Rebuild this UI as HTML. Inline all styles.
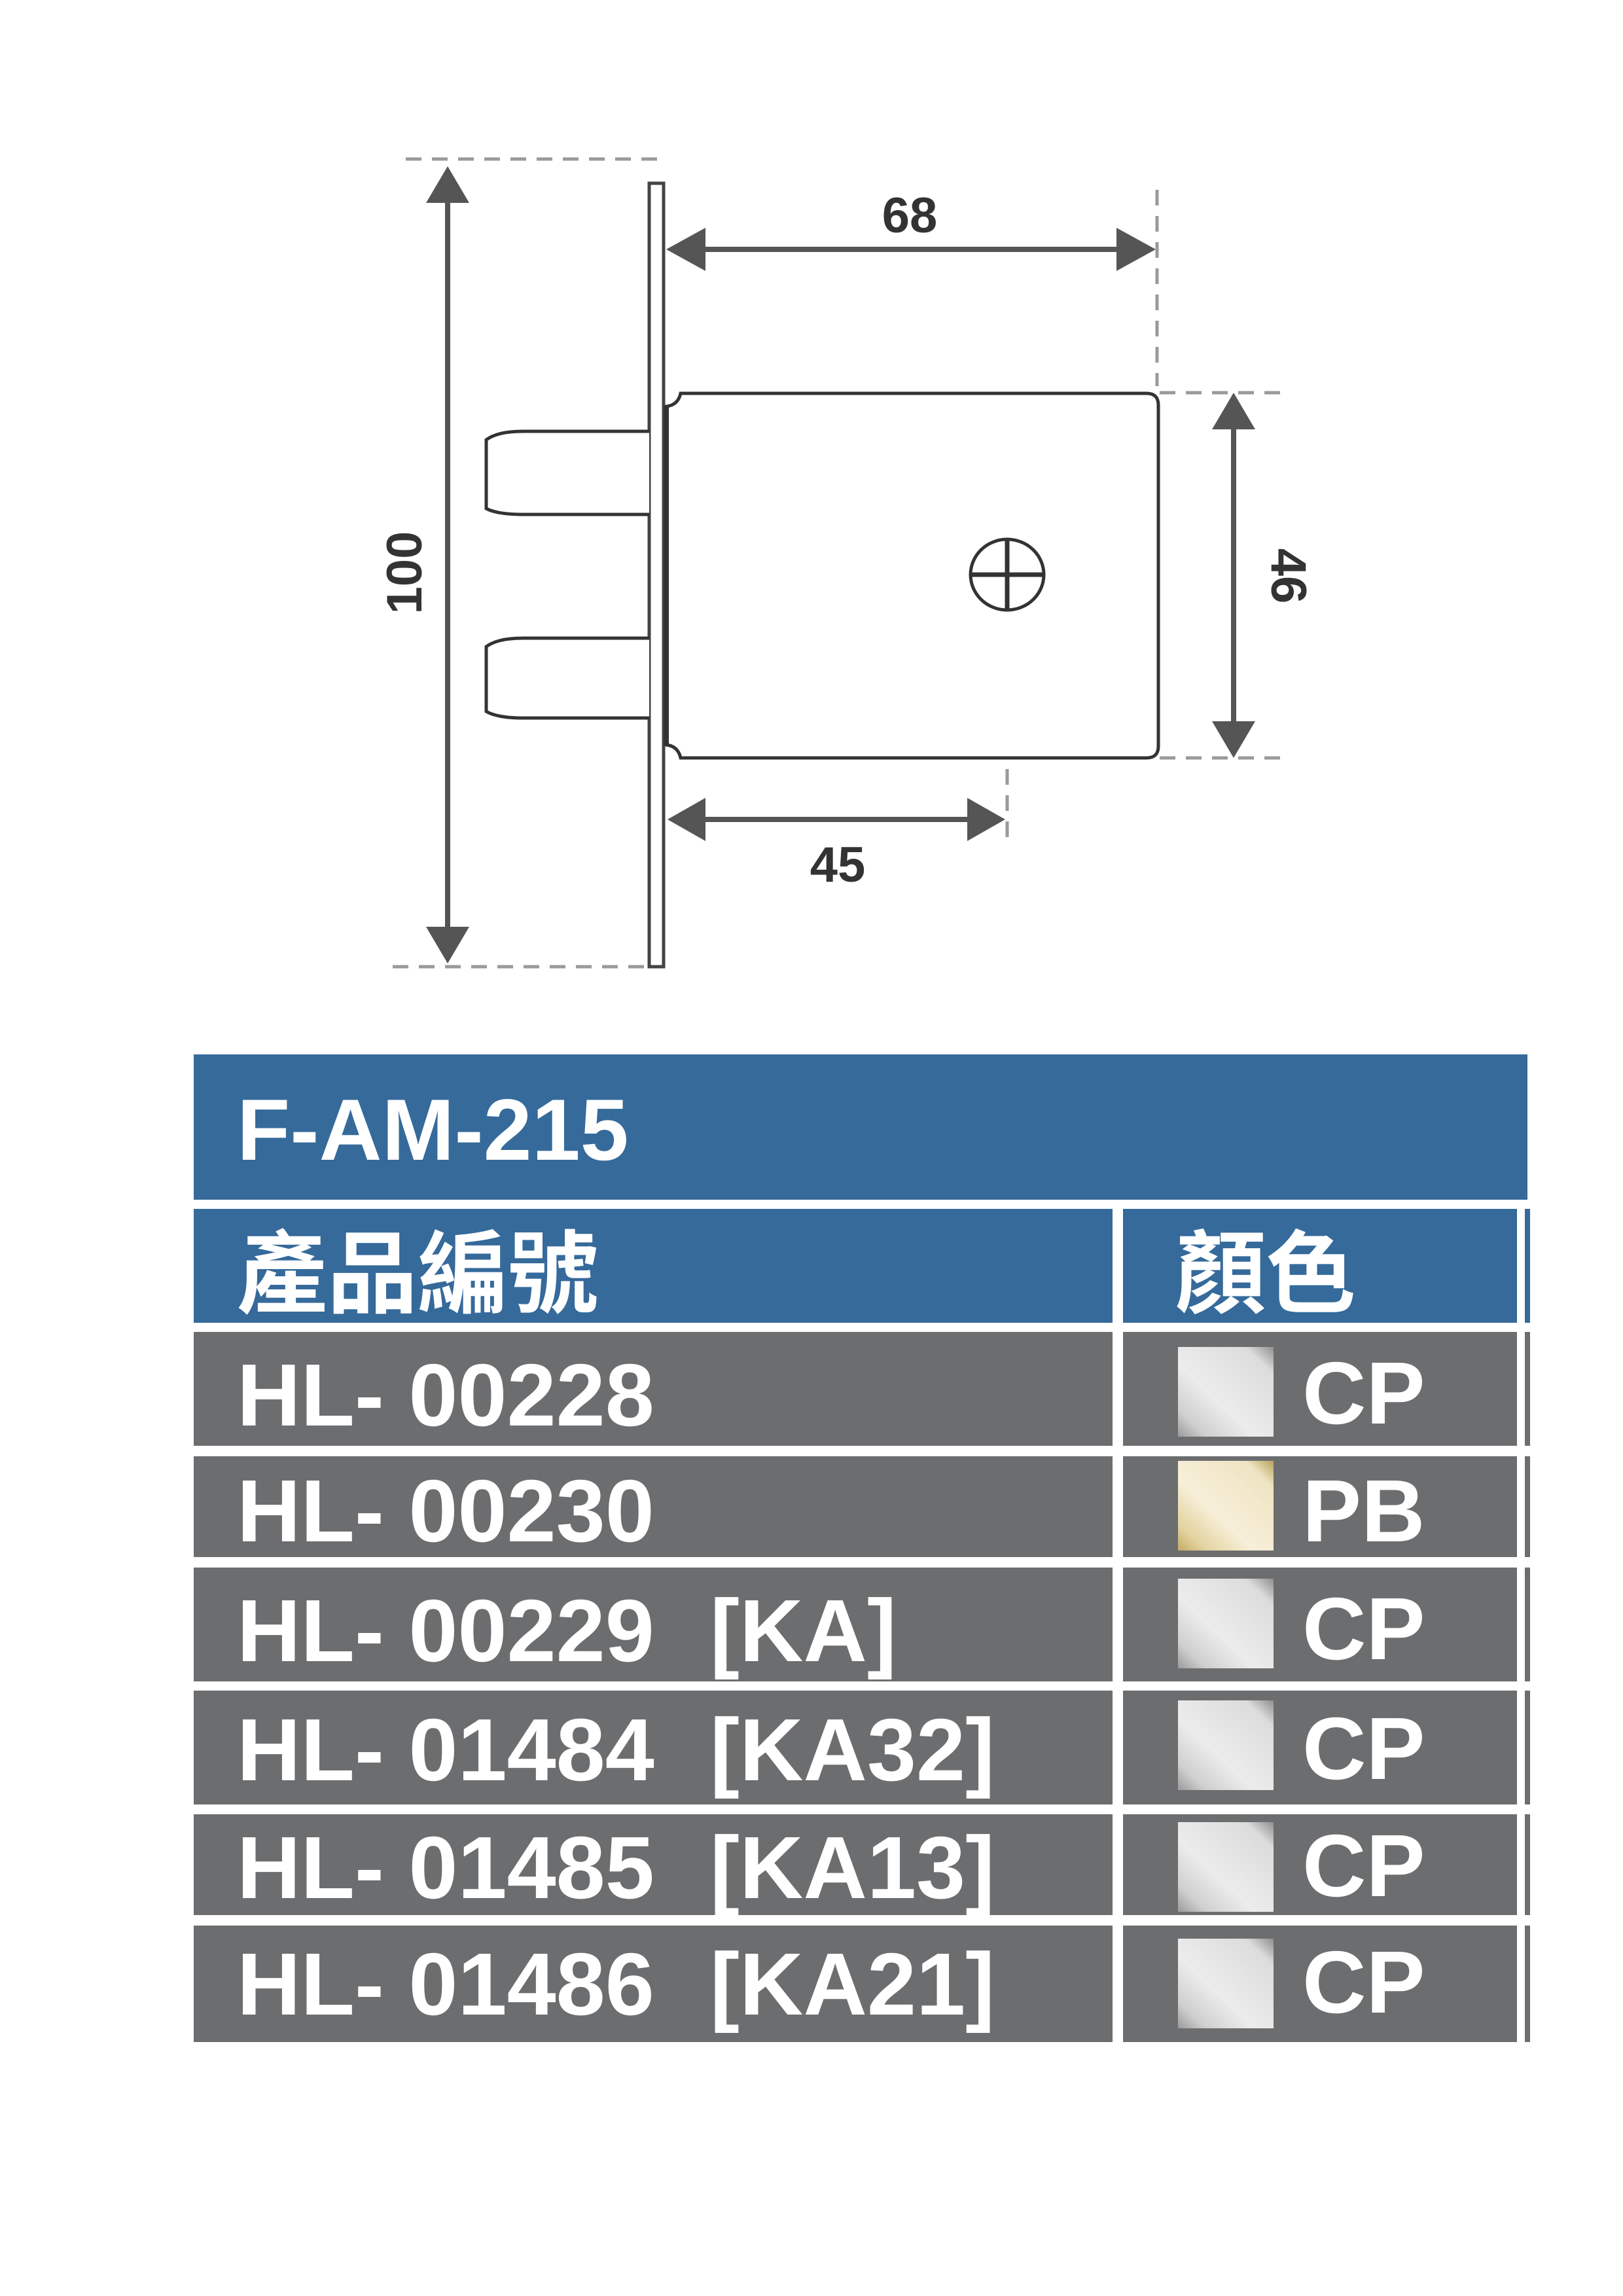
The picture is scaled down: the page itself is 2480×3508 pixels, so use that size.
<!DOCTYPE html>
<html><head><meta charset="utf-8"><style>
html,body{margin:0;padding:0;background:#fff;}
svg{display:block;}
.t{font-family:"Liberation Sans","Noto Sans CJK TC",sans-serif;font-weight:bold;fill:#fff;}
.d{font-family:"Liberation Sans",sans-serif;font-weight:bold;fill:#333;font-size:76px;}
</style></head><body>
<svg width="2480" height="3508" viewBox="0 0 2480 3508" xmlns="http://www.w3.org/2000/svg">
<defs>
<linearGradient id="cp" x1="1" y1="0" x2="0" y2="1">
<stop offset="0" stop-color="#8e8e8e"/><stop offset="0.15" stop-color="#dcdcdc"/><stop offset="0.6" stop-color="#ececec"/><stop offset="0.85" stop-color="#cfcfcf"/><stop offset="1" stop-color="#9a9a9a"/>
</linearGradient>
<linearGradient id="pb" x1="1" y1="0" x2="0" y2="1">
<stop offset="0" stop-color="#b8a35c"/><stop offset="0.15" stop-color="#efe4c2"/><stop offset="0.6" stop-color="#f7efd9"/><stop offset="0.85" stop-color="#e3d3a0"/><stop offset="1" stop-color="#c2ab66"/>
</linearGradient>
</defs>
<g stroke="#9a9a9a" stroke-width="5" stroke-dasharray="24 16" fill="none">
<line x1="620" y1="243" x2="1005" y2="243"/>
<line x1="600" y1="1477" x2="995" y2="1477"/>
<line x1="1768" y1="290" x2="1768" y2="590"/>
<line x1="1772" y1="600" x2="1960" y2="600"/>
<line x1="1772" y1="1158" x2="1960" y2="1158"/>
<line x1="1539" y1="935" x2="1539" y2="1290"/>
</g>
<g fill="#555" stroke="#555">
<line x1="684" y1="300" x2="684" y2="1430" stroke-width="8"/>
<polygon points="684,254 651,310 717,310" stroke="none"/>
<polygon points="684,1472 651,1416 717,1416" stroke="none"/>
<line x1="1070" y1="381" x2="1715" y2="381" stroke-width="8"/>
<polygon points="1018,381 1078,348 1078,414" stroke="none"/>
<polygon points="1766,381 1706,348 1706,414" stroke="none"/>
<line x1="1885" y1="650" x2="1885" y2="1110" stroke-width="8"/>
<polygon points="1885,600 1852,656 1918,656" stroke="none"/>
<polygon points="1885,1158 1852,1102 1918,1102" stroke="none"/>
<line x1="1070" y1="1252" x2="1480" y2="1252" stroke-width="8"/>
<polygon points="1020,1252 1078,1219 1078,1285" stroke="none"/>
<polygon points="1536,1252 1478,1219 1478,1285" stroke="none"/>
</g>
<g stroke="#333" stroke-width="5" fill="#fff">
<rect x="992" y="280" width="22" height="1197" stroke="#444"/>
<path d="M1040,601 H1752 Q1770,601 1770,619 V1140 Q1770,1158 1752,1158 H1040 Q1036,1140 1018,1138 V621 Q1036,619 1040,601 Z"/>
<line x1="1018" y1="621" x2="1018" y2="1138" stroke-width="8"/>
<path d="M992,659 H800 Q760,659 743,672 V777 Q760,786 800,786 H992"/>
<path d="M992,975 H800 Q760,975 743,988 V1087 Q760,1097 800,1097 H992"/>
<ellipse cx="1539" cy="878" rx="56" ry="54"/>
<line x1="1484" y1="878" x2="1595" y2="878" stroke-width="7"/>
<line x1="1539" y1="824" x2="1539" y2="932" stroke-width="7"/>
</g>
<text class="d" x="1390" y="355" text-anchor="middle">68</text>
<text class="d" x="1280" y="1347" text-anchor="middle">45</text>
<text class="d" transform="translate(644,875) rotate(-90)" text-anchor="middle">100</text>
<text class="d" transform="translate(1943,880) rotate(90)" text-anchor="middle">46</text>
<rect x="296" y="1611" width="2038" height="222" fill="#356a9b"/>
<text class="t" x="362" y="1772" font-size="133">F-AM-215</text>
<rect x="296" y="1847" width="1404" height="174" fill="#356a9b"/>
<rect x="1716" y="1847" width="602" height="174" fill="#356a9b"/>
<rect x="2330" y="1847" width="8" height="174" fill="#356a9b"/>
<text class="t" x="362" y="1995" font-size="138">產品編號</text>
<text class="t" x="1796" y="1995" font-size="138">顏色</text>
<g fill="#6c6d6f">
<rect x="296" y="2035" width="1404" height="174"/><rect x="1716" y="2035" width="602" height="174"/><rect x="2330" y="2035" width="8" height="174"/>
<rect x="296" y="2225" width="1404" height="154"/><rect x="1716" y="2225" width="602" height="154"/><rect x="2330" y="2225" width="8" height="154"/>
<rect x="296" y="2395" width="1404" height="174"/><rect x="1716" y="2395" width="602" height="174"/><rect x="2330" y="2395" width="8" height="174"/>
<rect x="296" y="2583" width="1404" height="174"/><rect x="1716" y="2583" width="602" height="174"/><rect x="2330" y="2583" width="8" height="174"/>
<rect x="296" y="2772" width="1404" height="154"/><rect x="1716" y="2772" width="602" height="154"/><rect x="2330" y="2772" width="8" height="154"/>
<rect x="296" y="2942" width="1404" height="178"/><rect x="1716" y="2942" width="602" height="178"/><rect x="2330" y="2942" width="8" height="178"/>
</g>
<rect x="1800" y="2058" width="146" height="137" fill="url(#cp)"/>
<rect x="1800" y="2232" width="146" height="137" fill="url(#pb)"/>
<rect x="1800" y="2412" width="146" height="137" fill="url(#cp)"/>
<rect x="1800" y="2598" width="146" height="137" fill="url(#cp)"/>
<rect x="1800" y="2784" width="146" height="137" fill="url(#cp)"/>
<rect x="1800" y="2962" width="146" height="137" fill="url(#cp)"/>
<g class="t" font-size="135">
<text x="362" y="2178">HL- 00228</text><text x="1990" y="2175">CP</text>
<text x="362" y="2355">HL- 00230</text><text x="1990" y="2355">PB</text>
<text x="362" y="2538">HL- 00229</text><text x="1085" y="2538">[KA]</text><text x="1990" y="2535">CP</text>
<text x="362" y="2720">HL- 01484</text><text x="1085" y="2720">[KA32]</text><text x="1990" y="2718">CP</text>
<text x="362" y="2900">HL- 01485</text><text x="1085" y="2900">[KA13]</text><text x="1990" y="2897">CP</text>
<text x="362" y="3078">HL- 01486</text><text x="1085" y="3078">[KA21]</text><text x="1990" y="3075">CP</text>
</g>
</svg>
</body></html>
